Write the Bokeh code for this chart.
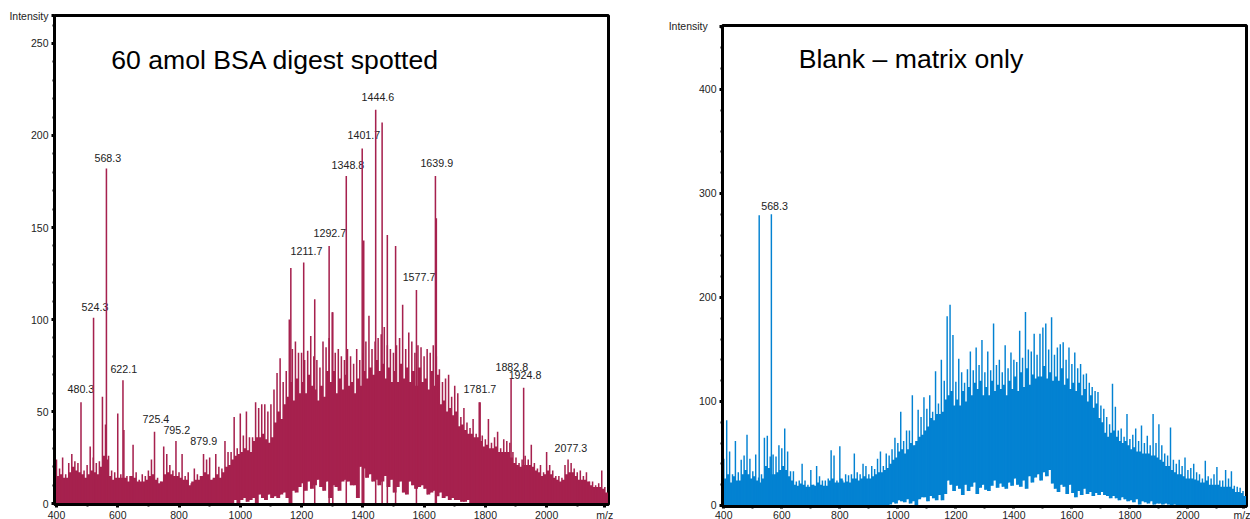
from bokeh.plotting import figure
from bokeh.models import Range1d, FixedTicker, Label
from bokeh.core.properties import value
from bokeh.embed import file_html
from bokeh.resources import INLINE

# ---- data -----------------------------------------------------------------
grid_mz = list(range(400, 2200, 10))
mid_mz = [m + 5 for m in grid_mz]

a_hi = [24,19,25,16,22,27,23,22,55,18,
        21,31,25,22,23,58,43,26,18,17,
        49,16,40,15,15,32,17,13,16,15,
        18,24,39,14,12,31,27,21,18,34,
        17,27,15,17,11,19,16,15,27,24,
        25,13,27,20,19,34,28,28,47,30,
        49,37,50,36,36,55,52,54,54,50,
        54,62,71,79,66,72,100,84,88,82,
        82,78,83,91,80,78,74,88,85,90,
        104,82,84,80,78,84,80,76,84,78,
        82,88,102,84,88,90,92,96,86,84,
        82,86,90,108,84,93,88,82,86,85,
        80,84,82,86,80,73,66,68,70,58,
        64,60,47,52,44,41,46,38,55,37,
        35,46,33,36,39,30,35,34,33,28,
        25,22,24,26,24,32,22,19,21,17,
        28,21,18,15,15,14,21,24,22,19,
        17,18,15,17,12,12,10,11,18,9]
a_mid = [15,16,14,14,17,20,18,17,16,14,
         16,18,17,16,20,26,24,15,13,14,
         14,14,14,12,15,14,12,12,12,13,
         15,16,13,11,12,16,17,16,15,15,
         14,13,13,10,12,13,13,15,17,16,
         13,14,16,14,17,20,21,24,26,27,
         28,30,29,28,34,36,36,38,35,33,
         36,44,50,46,54,58,66,56,68,60,
         66,60,70,64,62,56,64,58,72,66,
         72,60,68,62,70,64,66,60,68,64,
         72,68,74,70,78,72,76,68,74,66,
         72,66,76,68,74,66,72,64,74,66,
         68,62,72,64,70,54,56,50,52,48,
         50,42,43,40,38,38,36,36,34,31,
         32,30,30,31,28,28,28,28,25,22,
         21,20,21,21,21,20,18,17,15,16,
         18,16,14,13,12,13,16,17,17,15,
         13,13,13,12,10,9,9,9,8,6]
a_lo = [0]*56 + [0,0,2,0,2,3,1,2,3,0,5,3,2,5,
        3,4,3,5,6,3,0,7,6,9,
        11,7,12,8,10,13,9,7,12,3,
        10,9,7,12,13,12,10,10,3,20,
        19,14,16,12,13,10,12,15,9,13,
        6,9,12,6,5,12,10,8,9,10,
        8,5,6,7,4,6,3,4,2,3,
        2,2,1,1,2] + [0]*45
a_peak_mz = [521,563,617,1165,1207,1243,1290,1302,1346,1398,1403,1442,1463,1480,1507,1575,1637,1640,1783,1884,1925]
a_peak_h  = [101,182,67,128,131,111,140,104,178,193,143,214,207,146,140,116,178,155,55,68,63]
a_labels = ["568.3","524.3","622.1","480.3","725.4","795.2","879.9","1211.7","1292.7","1348.8",
            "1401.7","1444.6","1639.9","1577.7","1781.7","1882.8","1924.8","2077.3"]
a_lab_mz = [524,482,576,436,681,749,837,1164,1239,1298,1350,1396,1588,1530,1729,1833,1876,2026]
a_lab_y  = [188,107,73,62.5,46,40,34,137.5,147,184,200,221,185,123,62,74,70,30]

b_hi = [45,82,52,30,62,32,44,48,68,45,
        33,49,27,30,65,67,47,49,47,58,
        55,74,52,33,33,23,24,40,24,20,
        34,20,38,28,24,24,26,53,48,24,
        57,24,30,29,30,50,32,30,40,38,
        30,38,35,45,52,38,50,48,54,65,
        60,90,62,72,72,106,58,92,85,104,
        93,106,90,129,98,140,120,182,193,164,
        119,141,128,118,131,148,130,152,135,159,
        128,148,130,175,135,140,128,154,132,147,
        140,138,168,142,186,150,148,165,145,165,
        171,175,150,181,145,152,155,157,140,152,
        136,147,132,136,126,127,118,114,110,109,
        96,93,85,78,117,95,72,74,66,88,
        64,68,74,62,77,60,67,58,88,60,
        78,58,50,48,75,44,40,44,38,46,
        34,36,40,32,30,26,43,28,26,30,
        37,24,24,34,26,33,19,18,17,14]
b_mid = [26,30,22,28,24,24,30,34,30,26,
         28,24,22,26,38,36,30,30,32,34,
         38,34,28,24,20,19,21,20,18,18,
         20,19,22,20,19,19,24,26,22,22,
         26,22,23,22,26,26,24,26,28,26,
         26,28,30,32,32,34,36,40,44,46,
         52,54,50,54,60,58,62,66,68,72,
         76,84,82,88,88,90,102,106,110,96,
         102,96,110,100,114,106,118,112,120,106,
         114,106,120,110,116,112,116,106,120,112,
         124,110,128,114,132,116,126,122,124,124,
         134,122,128,120,124,120,132,116,122,112,
         118,110,118,106,112,100,106,94,98,84,
         80,70,66,70,72,66,62,60,62,58,
         54,56,52,52,50,50,50,48,48,46,
         44,42,38,38,34,32,30,30,28,26,
         26,26,25,24,22,22,24,20,20,20,
         20,18,18,18,18,16,13,13,12,9]
b_lo = [0]*57 + [1,3,2,5,4,3,6,2,4,0,6,8,8,
        4,9,7,5,10,5,11,24,20,14,
        19,16,10,20,14,18,22,11,17,20,
        15,14,19,24,17,21,18,16,22,19,
        26,20,18,24,16,28,22,27,30,24,
        32,28,34,21,16,13,20,18,11,20,
        12,8,14,10,16,11,13,9,12,10,
        13,10,9,7,9,7,5,8,6,4,
        5,3,6,1,4,3,2,4,1,2,
        2,1,2,1,0,1] + [0]*24
b_peak_mz = [522,564]
b_peak_h  = [279,280]
b_labels = ["568.3"]
b_lab_mz = [529]
b_lab_y  = [288]

RED = "#A6214E"
BLUE = "#0382D2"
FONT = "Liberation Sans"

def panel(left, fig_w, fig_h, ml, mr, mt, mb, xr, yr, yt, ym, hi, mid, lo, pm, ph, labs, lx, ly, color,
          title, tx, ty, top_label, x_tick_out, x_standoff):
    p = figure(width=fig_w, height=fig_h, output_backend="svg", toolbar_location=None,
               x_range=Range1d(*xr), y_range=Range1d(*yr),
               min_border_left=ml, min_border_right=mr, min_border_top=mt, min_border_bottom=mb,
               styles={"position": "absolute", "left": f"{left}px", "top": "8px"})
    p.frame_width = fig_w - ml - mr
    p.frame_height = fig_h - mt - mb
    p.grid.visible = False
    p.background_fill_color = "white"
    p.border_fill_color = None
    p.outline_line_color = "black"
    p.outline_line_width = 3
    p.outline_line_alpha = 1
    xmaj = list(range(400, 2001, 200)) + [2190]
    for ax, maj, minr in ((p.xaxis[0], xmaj, list(range(500, 2200, 200))),
                          (p.yaxis[0], yt, ym)):
        ax.ticker = FixedTicker(ticks=maj, minor_ticks=minr)
        ax.axis_line_color = "black"
        ax.axis_line_width = 3
        ax.major_tick_line_color = "black"
        ax.major_tick_line_width = 3
        ax.major_tick_out = 3
        ax.major_tick_in = 0
        ax.minor_tick_line_color = "black"
        ax.minor_tick_line_width = 2
        ax.minor_tick_out = 2
        ax.minor_tick_in = 0
        ax.major_label_text_font = FONT
        ax.major_label_text_font_size = "10.5px"
        ax.major_label_text_color = "#222222"
    p.xaxis[0].major_tick_out = x_tick_out
    p.xaxis[0].major_label_standoff = x_standoff
    p.yaxis[0].major_label_standoff = 3
    p.xaxis[0].major_label_overrides = {2190: "m/z"}
    p.yaxis[0].major_label_overrides = {yt[-1]: top_label}
    # labels sit beneath the spectrum
    p.text(x=lx, y=ly, text=labs, text_font=value(FONT), text_font_size="10.7px",
           text_color="#222222", text_baseline="middle", text_align="left")
    p.vbar(x=mid_mz, bottom=lo, top=mid, width=10.5, fill_color=color, line_color=None)
    p.vbar(x=grid_mz, bottom=lo, top=hi, width=5, fill_color=color, line_color=None)
    p.vbar(x=pm, bottom=0, top=ph, width=5, fill_color=color, line_color=None)
    p.add_layout(Label(x=tx, y=ty, text=title, text_font=FONT, text_font_size="26.6px",
                       text_color="black", text_baseline="middle", text_align="left"))
    return p

p1 = panel(6, 632, 511, 46, 32, 7, 15, (393.5, 2202), (-0.5, 265.2),
           [0,50,100,150,200,250,265], [v for v in range(10, 265, 10) if v % 50],
           a_hi, a_mid, a_lo, a_peak_mz, a_peak_h,
           a_labels, a_lab_mz, a_lab_y, RED,
           "60 amol BSA digest spotted", 579, 241, "Intensity", 3, 1)
p2 = panel(640, 610, 511, 82, 4, 17, 13, (395.5, 2202), (-1, 461.5),
           [0,100,200,300,400,461], [v for v in range(20, 461, 20) if v % 100],
           b_hi, b_mid, b_lo, b_peak_mz, b_peak_h,
           b_labels, b_lab_mz, b_lab_y, BLUE,
           "Blank \u2013 matrix only", 658, 429, "Intensity\u00a0\u00a0\u00a0", 2, 0)

open("out.html", "w").write(file_html([p1, p2], INLINE))
